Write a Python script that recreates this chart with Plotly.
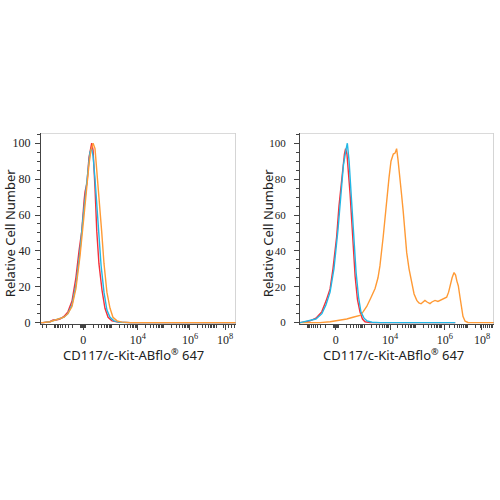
import numpy as np
import plotly.graph_objects as go

# ---------------- data (x in display channel units 0-1000, y = relative cell number) -------------
# Left panel
L_red_x = [0, 10, 46, 62, 77, 97, 118, 138, 159, 179, 195, 209, 221, 226, 236, 246, 260, 267, 277, 286, 297, 313, 328, 344, 364, 395, 456, 1000]
L_red_y = [0, 0, 0.5, 1.5, 1.5, 2, 3.5, 6, 12, 25, 40, 51, 68, 73, 78, 92, 100, 96, 75, 51, 33, 18, 8, 3, 1, 0.3, 0, 0]

L_cyan_x = [0, 10, 46, 72, 97, 118, 138, 159, 179, 200, 215, 231, 241, 251, 259, 267, 277, 294, 308, 323, 338, 354, 374, 405, 460, 1000]
L_cyan_y = [0, 0, 0.5, 1.3, 2, 3, 5, 10, 21, 40, 58, 76, 88, 95, 97, 93, 80, 51, 32, 17, 7, 3, 1, 0.2, 0, 0]

L_orange_x = [0, 10, 46, 72, 97, 118, 138, 159, 179, 200, 221, 236, 246, 256, 267, 277, 287, 297, 311, 323, 338, 354, 369, 390, 415, 460, 1000]
L_orange_y = [0, 0, 0.5, 1.3, 2, 3, 5, 9, 19, 37, 60, 78, 88, 96, 100, 97, 85, 70, 51, 33, 17, 8, 3, 1, 0.3, 0, 0]

# Right panel
R_red_x = [0, 17, 52, 82, 112, 134, 155, 170, 189, 201, 215, 222, 229, 235, 242, 258, 271, 284, 296, 309, 322, 335, 361, 800]
R_red_y = [0, 0.3, 1, 2.5, 6, 12, 18.8, 30, 48, 65, 81, 90, 94, 97, 94, 72, 50, 26, 13, 6, 2, 0.5, 0, 0]

R_cyan_x = [0, 21, 52, 82, 113, 134, 155, 175, 196, 211, 224, 238, 244, 253, 263, 276, 289, 302, 314, 330, 345, 371, 412, 800]
R_cyan_y = [0, 0.5, 1, 2, 5, 10, 17, 30, 52, 72, 88, 97, 100, 90, 72, 50, 28, 14, 6, 2.5, 1, 0.2, 0, 0]

R_orange_x = [0, 103, 155, 206, 241, 273, 309, 325, 344, 366, 387, 402, 412, 429, 448, 459, 469, 481, 490, 498, 505,
              515, 523, 532, 541, 550, 562, 576, 588, 602, 613, 624, 634, 644, 655, 670, 680, 696, 711, 722, 737,
              756, 766, 773, 784, 794, 802, 809, 816, 825, 834, 840, 851, 866, 880, 1000]
R_orange_y = [0, 0, 0.5, 1.3, 2, 3, 4, 6, 9, 14, 19, 25, 31.6, 48, 71, 81, 90, 94, 94.5, 97, 91,
              82, 72, 62, 50, 39, 30, 22.4, 16, 12.4, 11, 10.5, 11.5, 12.4, 11.5, 10.6, 11.5, 12.4, 11.8, 12.4, 13,
              14.2, 17, 20.6, 25, 27.9, 26.5, 23, 20.6, 14, 7.8, 3.5, 0.8, 0.1, 0, 0]

x_tick_text = ["0", "10<sup>4</sup>", "10<sup>6</sup>", "10<sup>8</sup>"]
L_x_tick_pos = [217, 497, 764, 944]
R_x_tick_pos = [184, 464, 747, 938]
y_tick_vals = [0, 20, 40, 60, 80, 100]

RED = "#F5303A"
CYAN = "#22B8E6"
ORANGE = "#FF9A35"


def biex_minor(z, p4):
    p2 = z + 13
    d = (p4 - p2) / 2
    pos = []
    for n in range(2, 8):
        for k in range(1, 10):
            p = p2 + d * (n - 2) + d * np.log10(k)
            if p < 1000:
                pos.append(p)
    neg = [2 * z - p for p in pos if 2 * z - p > 2]
    dense = list(z + np.linspace(-12, 12, 9))
    return sorted(pos + neg + dense)


fig = go.Figure()

def add(x, y, color, xa, ya):
    fig.add_trace(go.Scatter(x=x, y=y, mode="lines", line=dict(color=color, width=1.4),
                             xaxis=xa, yaxis=ya, showlegend=False, hoverinfo="skip"))

add(L_red_x, L_red_y, RED, "x", "y")
add(L_cyan_x, L_cyan_y, CYAN, "x", "y")
add(L_orange_x, L_orange_y, ORANGE, "x", "y")
add(R_red_x, R_red_y, RED, "x2", "y2")
add(R_orange_x, R_orange_y, ORANGE, "x2", "y2")
add(R_cyan_x, R_cyan_y, CYAN, "x2", "y2")

W = 500.0
tickfont = dict(family="Liberation Serif", size=12, color="#222")
axcol = "#444"


def xaxis(dom, ticks, anchor):
    return dict(domain=dom, range=[0, 1000], anchor=anchor, showgrid=False, zeroline=False,
                showline=True, linecolor=axcol, linewidth=1,
                tickmode="array", tickvals=ticks, ticktext=x_tick_text,
                ticks="outside", ticklen=5, tickcolor=axcol, tickwidth=1, tickfont=tickfont,
                minor=dict(tickmode="array", tickvals=biex_minor(ticks[0], ticks[1]),
                           ticks="outside", ticklen=3, tickcolor=axcol, tickwidth=1))


def yaxis(anchor, standoff, fsize):
    return dict(domain=[1 - 328 / W, 1 - 135 / W], range=[-0.8, 105.5], anchor=anchor,
                showgrid=False, zeroline=False, showline=True, linecolor=axcol, linewidth=1,
                tickmode="array", tickvals=y_tick_vals, ticks="outside", ticklen=5,
                tickcolor=axcol, tickwidth=1,
                tickfont=dict(family="Liberation Serif", size=fsize, color="#222"),
                ticklabelstandoff=standoff,
                minor=dict(dtick=5, ticks="outside", ticklen=3, tickcolor=axcol, tickwidth=1))


fig.update_layout(
    width=500, height=500, margin=dict(l=0, r=0, t=0, b=0),
    paper_bgcolor="white", plot_bgcolor="white",
    xaxis=xaxis([41 / W, 236 / W], L_x_tick_pos, "y"),
    yaxis=yaxis("x", 2, 12),
    xaxis2=xaxis([300 / W, 494 / W], R_x_tick_pos, "y2"),
    yaxis2=yaxis("x2", 6, 11),
)

# top/right frame borders
for xd, yref in (("x", "y"), ("x2", "y2")):
    fig.add_shape(type="line", xref=xd, yref=yref, x0=0, x1=1000, y0=105.5, y1=105.5,
                  line=dict(color="#AAAAAA", width=1))
    fig.add_shape(type="line", xref=xd, yref=yref, x0=1000, x1=1000, y0=-0.8, y1=105.5,
                  line=dict(color="#AAAAAA", width=1))

title_font = dict(family="Noto Sans", size=13, color="#222")
for xc in (133 / W, 393 / W):
    fig.add_annotation(text="CD117/c-Kit-ABflo<sup>®</sup> 647", xref="paper", yref="paper",
                       x=xc, y=1 - 359 / W, showarrow=False, font=title_font,
                       xanchor="center", yanchor="middle")
for xc in (10 / W, 268 / W):
    fig.add_annotation(text="Relative Cell Number", xref="paper", yref="paper",
                       x=xc, y=1 - 236 / W, showarrow=False, font=title_font, textangle=-90,
                       xanchor="center", yanchor="middle")

fig.write_html("out.html", config={"displayModeBar": False},
               post_script="document.body.style.margin='0';document.body.style.overflow='hidden';")
